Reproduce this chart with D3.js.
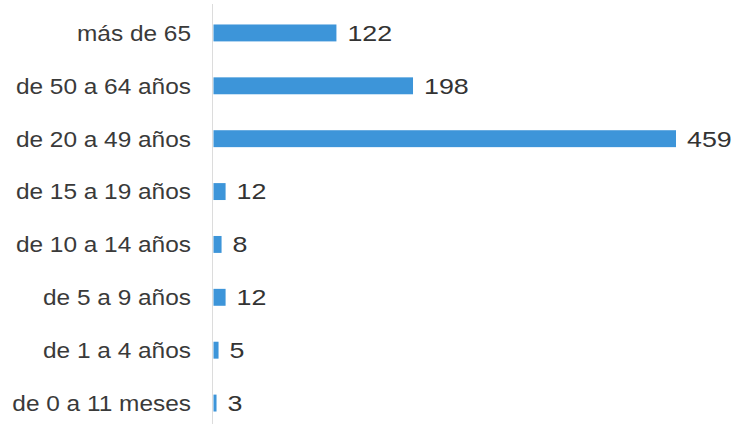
<!DOCTYPE html>
<html><head><meta charset="utf-8">
<script src="https://cdn.jsdelivr.net/npm/d3@7"></script>
<style>body{margin:0;background:#fff}svg{display:block}</style>
</head><body>
<svg id="c" width="739" height="424"></svg>
<script>
const categories = ["más de 65","de 50 a 64 años","de 20 a 49 años","de 15 a 19 años","de 10 a 14 años","de 5 a 9 años","de 1 a 4 años","de 0 a 11 meses"];
const values = [122,198,459,12,8,12,5,3];

const svg = d3.select("#c");
const x = d3.scaleLinear().domain([0,459]).range([213.5,676]);
const y = d3.scaleBand().domain(categories).range([6.5,429.5]).paddingInner(0.68).paddingOuter(0.34);

svg.append("line").attr("x1",212.5).attr("x2",212.5).attr("y1",4).attr("y2",424)
  .attr("stroke","#dcdcdc").attr("stroke-width",1);

const yAxis = d3.axisLeft(y).tickSize(0).tickPadding(0);
const ga = svg.append("g").attr("transform","translate(191,0)").call(yAxis);
ga.select(".domain").remove();
ga.selectAll("text").attr("font-family","Liberation Sans, Arial, sans-serif")
  .attr("font-size",22).attr("fill","#3a3a3a").attr("dy","0.36em")
  .attr("transform","scale(1.11,1)");

svg.selectAll("rect.bar").data(values).join("rect").attr("class","bar")
  .attr("x",x(0)).attr("y",(d,i)=>y(categories[i]))
  .attr("width",d=>x(d)-x(0)).attr("height",y.bandwidth())
  .attr("fill","#3d95d9");

svg.selectAll("text.val").data(values).join("text").attr("class","val")
  .attr("transform",(d,i)=>`translate(${x(d)+11},${y(categories[i])+y.bandwidth()/2}) scale(1.22,1)`)
  .attr("dy","0.36em")
  .attr("font-family","Liberation Sans, Arial, sans-serif").attr("font-size",22)
  .attr("fill","#333")
  .text(d=>d);
</script>
</body></html>
